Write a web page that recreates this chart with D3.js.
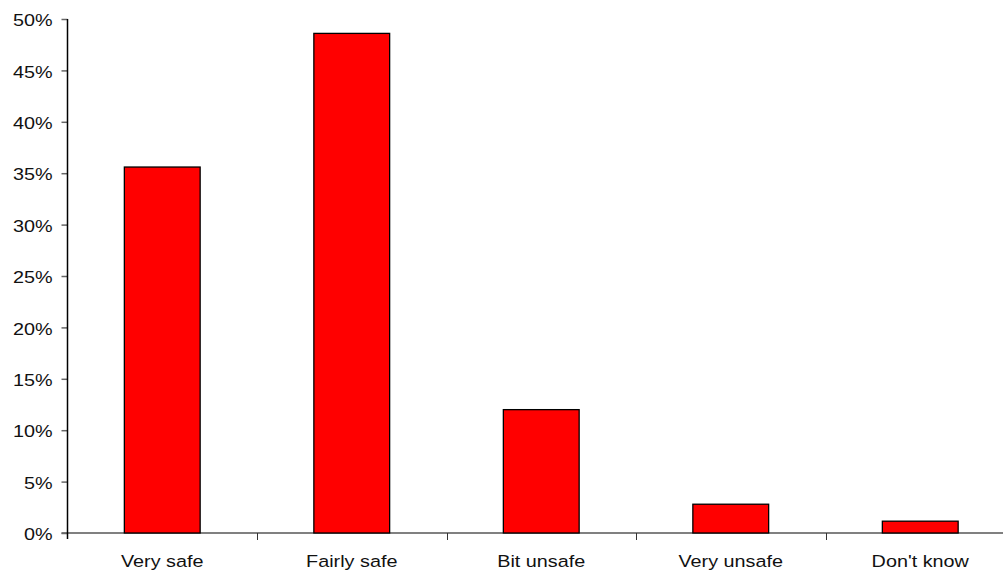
<!DOCTYPE html>
<html>
<head>
<meta charset="utf-8">
<script src="https://cdn.jsdelivr.net/npm/d3@7"></script>
<style>
  html, body { margin: 0; padding: 0; background: #fff; }
  svg { display: block; }
  text { font-family: "Liberation Sans", Arial, sans-serif; fill: #111; }
</style>
</head>
<body>
<svg id="chart" width="1003" height="571"></svg>
<script>
// Survey answers: how safe people feel (share of respondents, %)
const categories = ["Very safe", "Fairly safe", "Bit unsafe", "Very unsafe", "Don't know"];
const shares = [35.6, 48.6, 12.0, 2.8, 1.15];
const yTicks = [0, 5, 10, 15, 20, 25, 30, 35, 40, 45, 50];

const svg = d3.select("#chart");
const x0 = 67.5, xEnd = 1015, yTop = 19, yBase = 533;
const fontSize = 16.5, stretch = 1.2;

const x = d3.scaleBand().domain(categories).range([x0, xEnd])
  .paddingInner(0.6).paddingOuter(0.3);
const xCat = d3.scaleBand().domain(categories).range([x0, xEnd]).padding(0);
const y = d3.scaleLinear().domain([0, 50]).range([yBase, yTop]);

// baseline of the category axis (grey, runs a little past the value axis)
svg.append("line")
  .attr("x1", x0 - 6).attr("x2", 1003)
  .attr("y1", y(0)).attr("y2", y(0))
  .attr("stroke", "#808080").attr("stroke-width", 2);

// category separator ticks
svg.append("g").selectAll("line")
  .data(categories.slice(1))
  .join("line")
  .attr("x1", d => Math.round(xCat(d)) + 0.5).attr("x2", d => Math.round(xCat(d)) + 0.5)
  .attr("y1", y(0)).attr("y2", y(0) + 7)
  .attr("stroke", "#333").attr("stroke-width", 1);

// bars
svg.append("g").selectAll("rect")
  .data(categories)
  .join("rect")
  .attr("x", d => x(d))
  .attr("width", x.bandwidth())
  .attr("y", (d, i) => y(shares[i]))
  .attr("height", (d, i) => y(0) - y(shares[i]))
  .attr("fill", "#ff0000")
  .attr("stroke", "#000").attr("stroke-width", 1.3);

// value axis
const yAxis = svg.append("g")
  .attr("transform", `translate(${x0},0)`)
  .call(d3.axisLeft(y).tickValues(yTicks).tickSize(6).tickSizeOuter(0)
    .tickFormat(d => d + "%"));
yAxis.select(".domain").remove();
yAxis.selectAll(".tick line").attr("stroke", "#666").attr("stroke-width", 1.5);
yAxis.selectAll(".tick text")
  .attr("x", -15 / stretch)
  .attr("dy", "0.4em")
  .attr("transform", `scale(${stretch},1)`)
  .style("font-size", fontSize + "px")
  .style("font-family", '"Liberation Sans", Arial, sans-serif')
  .attr("fill", "#111");
svg.append("line")
  .attr("x1", x0).attr("x2", x0)
  .attr("y1", yTop).attr("y2", yBase + 6)
  .attr("stroke", "#000").attr("stroke-width", 1.5);

// category labels
const xAxis = svg.append("g")
  .attr("transform", `translate(0,${yBase})`)
  .call(d3.axisBottom(xCat).tickSize(0));
xAxis.select(".domain").remove();
xAxis.selectAll(".tick text")
  .attr("y", 34).attr("dy", 0)
  .attr("transform", `scale(${stretch},1)`)
  .style("font-size", fontSize + "px")
  .style("font-family", '"Liberation Sans", Arial, sans-serif')
  .attr("fill", "#111");
</script>
</body>
</html>
